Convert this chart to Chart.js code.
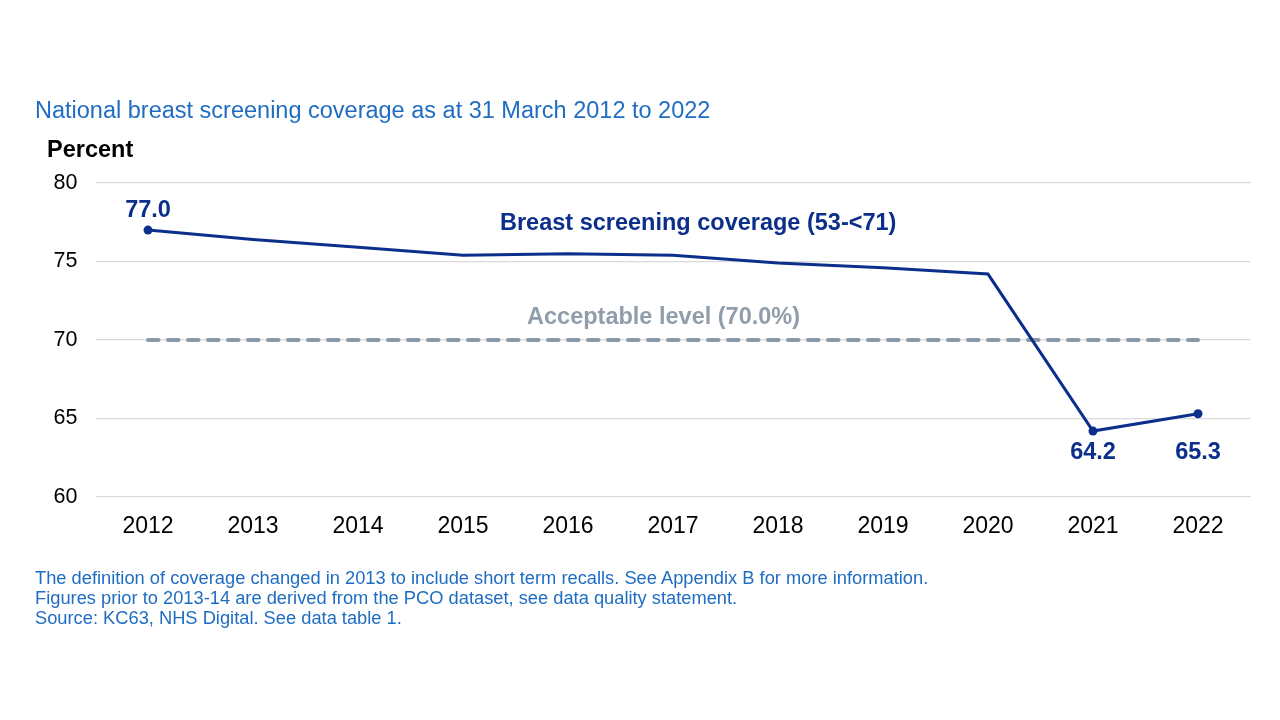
<!DOCTYPE html>
<html>
<head>
<meta charset="utf-8">
<script src="https://cdn.jsdelivr.net/npm/chart.js@4"></script>
<style>
  body { margin: 0; background: #fff; font-family: "Liberation Sans", Arial, sans-serif; }
  #wrap { position: relative; width: 1280px; height: 720px; overflow: hidden; }
  #chart { position: absolute; left: 0; top: 0; }
  .title { position: absolute; left: 35px; top: 97px; font-size: 23.5px; color: #1f6dc2; white-space: nowrap; }
  .unit { position: absolute; left: 47px; top: 136px; font-size: 23.5px; font-weight: bold; color: #000; }
  .notes { position: absolute; left: 35px; top: 568px; font-size: 18.3px; line-height: 20px; color: #1f6dc2; white-space: nowrap; }
</style>
</head>
<body>
<div id="wrap">
  <canvas id="chart" width="1280" height="720"></canvas>
  <div class="title">National breast screening coverage as at 31 March 2012 to 2022</div>
  <div class="unit">Percent</div>
  <div class="notes">
    The definition of coverage changed in 2013 to include short term recalls. See Appendix B for more information.<br>
    Figures prior to 2013-14 are derived from the PCO dataset, see data quality statement.<br>
    Source: KC63, NHS Digital. See data table 1.
  </div>
</div>
<script>
// data
var years = ['2012', '2013', '2014', '2015', '2016', '2017', '2018', '2019', '2020', '2021', '2022'];
var coverage = [77.0, 76.4, 75.9, 75.4, 75.5, 75.4, 74.9, 74.6, 74.2, 64.2, 65.3];
var acceptable = [70, 70, 70, 70, 70, 70, 70, 70, 70, 70, 70];
var yTicks = [60, 65, 70, 75, 80];

var navy = '#0b2f8a';
var grey = '#8a99a8';
var fontFam = '"Liberation Sans", Arial, sans-serif';

// value labels + text annotations
var labelsPlugin = {
    id: 'labelsPlugin',
    afterDatasetsDraw: function (chart) {
        var ctx = chart.ctx;
        var x = chart.scales.x, y = chart.scales.y;
        ctx.save();
        ctx.textAlign = 'center';
        ctx.textBaseline = 'middle';
        ctx.font = 'bold 23.5px ' + fontFam;
        ctx.fillStyle = navy;
        // 2012 above, 2021/2022 below
        ctx.fillText(coverage[0].toFixed(1), x.getPixelForValue(0), y.getPixelForValue(coverage[0]) - 20);
        ctx.fillText(coverage[9].toFixed(1), x.getPixelForValue(9), y.getPixelForValue(coverage[9]) + 21);
        ctx.fillText(coverage[10].toFixed(1), x.getPixelForValue(10), y.getPixelForValue(coverage[9]) + 21);

        ctx.fillText('Breast screening coverage (53-<71)', x.getPixelForValue(5.24), y.getPixelForValue(77.45));
        ctx.fillStyle = '#919daa';
        ctx.fillText('Acceptable level (70.0%)', x.getPixelForValue(4.91), y.getPixelForValue(71.45));
        ctx.restore();
    }
};

var ctx = document.getElementById('chart').getContext('2d');
var myChart = new Chart(ctx, {
    type: 'line',
    data: {
        labels: years,
        datasets: [{
            label: 'Breast screening coverage (53-<71)',
            data: coverage,
            borderColor: navy,
            backgroundColor: navy,
            borderWidth: 3,
            pointRadius: function (c) { return [0, 9, 10].indexOf(c.dataIndex) >= 0 ? 4.5 : 0; },
            pointBorderWidth: 0,
            tension: 0,
            order: 1
        }, {
            label: 'Acceptable level (70.0%)',
            data: acceptable,
            borderColor: grey,
            borderWidth: 4,
            borderDash: [10.5, 9.5],
            borderCapStyle: 'round',
            pointRadius: 0,
            order: 2
        }]
    },
    options: {
        responsive: false,
        animation: false,
        layout: { padding: { top: 183, right: 29.5, bottom: 0, left: 0 } },
        plugins: {
            legend: { display: false },
            tooltip: { enabled: false }
        },
        scales: {
            x: {
                offset: true,
                grid: { display: false, drawTicks: false },
                border: { display: false },
                ticks: {
                    color: '#000',
                    padding: 16,
                    maxRotation: 0,
                    font: { family: fontFam, size: 23 }
                },
                afterFit: function (s) { s.height = 223; }
            },
            y: {
                min: 60,
                max: 80,
                afterBuildTicks: function (s) { s.ticks = yTicks.map(function (v) { return { value: v }; }); },
                grid: { color: '#d9d9d9', lineWidth: 1.3, drawTicks: false },
                border: { display: false },
                ticks: {
                    color: '#000',
                    padding: 18,
                    font: { family: fontFam, size: 21.5 }
                },
                afterFit: function (s) { s.width = 95.5; }
            }
        }
    },
    plugins: [labelsPlugin]
});
</script>
</body>
</html>
